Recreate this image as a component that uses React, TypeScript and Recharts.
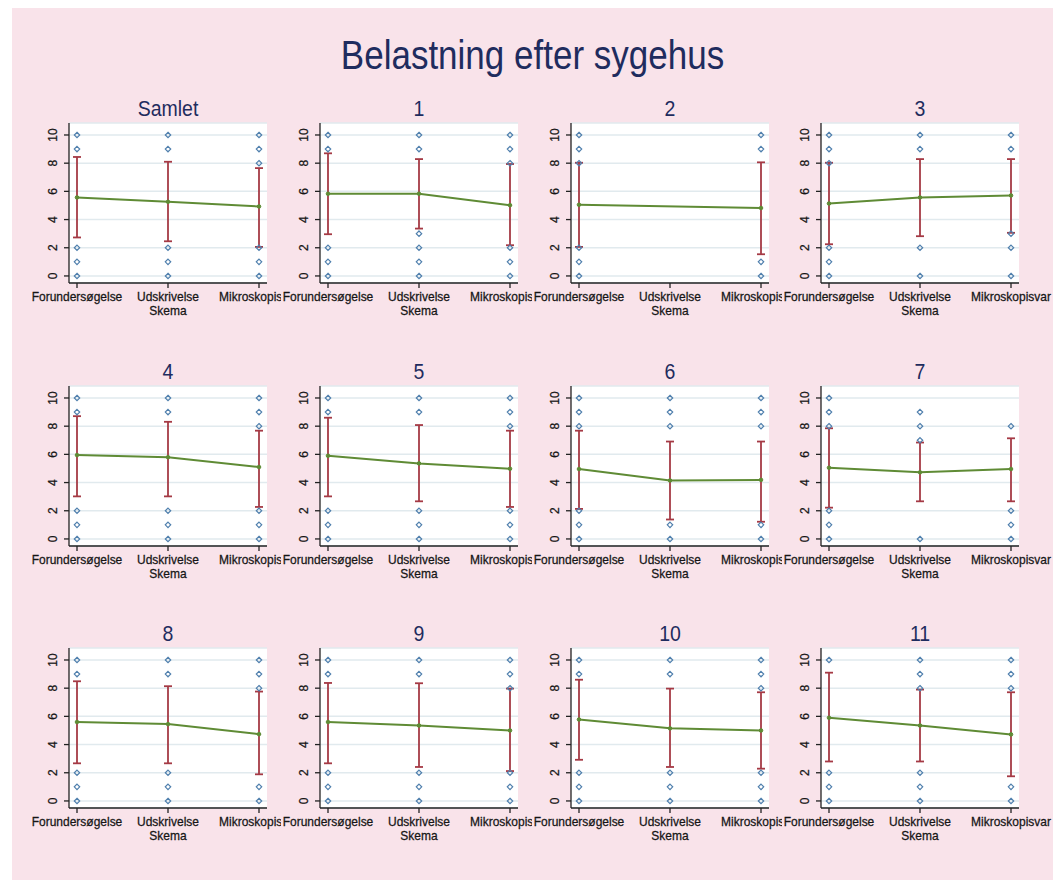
import { ComposedChart, Line, Scatter, ErrorBar, XAxis, YAxis, CartesianGrid } from "recharts";

const categories = ["Forundersøgelse", "Udskrivelse\nSkema", "Mikroskopisvar"];
const panelTitles = ["Samlet", "1", "2", "3", "4", "5", "6", "7", "8", "9", "10", "11"];
const yTicks = [0, 2, 4, 6, 8, 10];

// mean per category (null = no data)
const means: (number | null)[][] = [
  [5.57, 5.26, 4.93],
  [5.83, 5.83, 5.02],
  [5.05, null, 4.82],
  [5.14, 5.57, 5.71],
  [5.95, 5.8, 5.1],
  [5.9, 5.36, 4.98],
  [4.96, 4.15, 4.19],
  [5.05, 4.73, 4.96],
  [5.6, 5.45, 4.74],
  [5.6, 5.35, 5.0],
  [5.78, 5.15, 5.0],
  [5.9, 5.35, 4.72],
];

const lows: (number | null)[][] = [
  [2.73, 2.46, 2.06],
  [2.96, 3.36, 2.18],
  [2.06, null, 1.54],
  [2.25, 2.82, 3.06],
  [3.02, 3.02, 2.27],
  [3.02, 2.67, 2.27],
  [2.13, 1.38, 1.22],
  [2.22, 2.67, 2.67],
  [2.67, 2.67, 1.89],
  [2.67, 2.41, 2.12],
  [2.92, 2.41, 2.29],
  [2.8, 2.8, 1.75],
];

const highs: (number | null)[][] = [
  [8.44, 8.1, 7.65],
  [8.7, 8.29, 7.94],
  [8.03, null, 8.06],
  [8.03, 8.29, 8.29],
  [8.71, 8.31, 7.68],
  [8.6, 8.08, 7.68],
  [7.68, 6.91, 6.91],
  [7.85, 6.84, 7.14],
  [8.49, 8.14, 7.76],
  [8.37, 8.35, 7.97],
  [8.6, 7.97, 7.71],
  [9.1, 7.9, 7.71],
];

// single answers outside the bars
const outliers: number[][][] = [
  [[10, 9, 2, 1, 0], [10, 9, 2, 1, 0], [10, 9, 8, 2, 1, 0]],
  [[10, 9, 2, 1, 0], [10, 9, 3, 2, 1, 0], [10, 9, 8, 2, 1, 0]],
  [[10, 9, 8, 2, 1, 0], [], [10, 9, 1, 0]],
  [[10, 9, 8, 2, 1, 0], [10, 9, 2, 0], [10, 9, 3, 2, 0]],
  [[10, 9, 2, 1, 0], [10, 9, 2, 1, 0], [10, 9, 8, 2, 1, 0]],
  [[10, 9, 2, 1, 0], [10, 9, 2, 1, 0], [10, 9, 8, 2, 1, 0]],
  [[10, 9, 8, 2, 1, 0], [10, 9, 8, 1, 0], [10, 9, 8, 1, 0]],
  [[10, 9, 8, 2, 1, 0], [9, 8, 7, 0], [8, 2, 1, 0]],
  [[10, 9, 2, 1, 0], [10, 9, 2, 1, 0], [10, 9, 8, 1, 0]],
  [[10, 9, 2, 1, 0], [10, 9, 2, 1, 0], [10, 9, 8, 2, 1, 0]],
  [[10, 9, 2, 1, 0], [10, 9, 2, 1, 0], [10, 9, 8, 2, 1, 0]],
  [[10, 2, 1, 0], [10, 9, 8, 2, 1, 0], [10, 9, 8, 1, 0]],
];

const PINK = "#f9e3ea";
const NAVY = "#1f2c5e";
const GREEN = "#5f8b35";
const RED = "#a53a45";
const BLUE = "#4f7fad";
const INK = "#161616";
const FONT = "'Liberation Sans', Arial, sans-serif";

const PLOT_W = 198;
const PLOT_H = 160;
const AXIS_W = 34;
const PAD_L = 5;
const CHART_W = 300;
const plotLefts = [69, 320, 571, 821];
const plotTops = [123, 386, 648];

const XTick = (props: any) => {
  const { x, y, payload } = props;
  const lines = categories[payload.value].split("\n");
  return (
    <g transform={`translate(${x},${y}) scale(1,1.08)`}>
      <text
        textAnchor="middle"
        fontSize={12}
        fill={INK}
        stroke={INK}
        strokeWidth={0.25}
        fontFamily={FONT}
      >
        {lines.map((l, i) => (
          <tspan key={i} x={0} y={12.5 + i * 12.5}>
            {l}
          </tspan>
        ))}
      </text>
    </g>
  );
};

const YTick = (props: any) => {
  const { x, y, payload } = props;
  return (
    <text
      transform={`translate(${x},${y}) rotate(-90)`}
      y={-7.5}
      textAnchor="middle"
      fontSize={12}
      fill={INK}
      stroke={INK}
      strokeWidth={0.25}
      fontFamily={FONT}
    >
      {payload.value}
    </text>
  );
};

const Diamond = (props: any) => {
  const { cx, cy } = props;
  const r = 2.7;
  return (
    <path
      d={`M${cx},${cy - r}L${cx + r},${cy}L${cx},${cy + r}L${cx - r},${cy}Z`}
      fill="none"
      stroke={BLUE}
      strokeWidth={1.2}
    />
  );
};

const Panel = ({ p }: { p: number }) => {
  const col = p % 4;
  const row = Math.floor(p / 4);
  const rows = categories.map((_, i) => {
    const m = means[p][i];
    const lo = lows[p][i];
    const hi = highs[p][i];
    return {
      x: i,
      mean: m,
      err: m == null || lo == null || hi == null ? undefined : [m - lo, hi - m],
    };
  });
  const dots = outliers[p].flatMap((vals, i) => vals.map((v) => ({ x: i, y: v })));
  const left = plotLefts[col] - AXIS_W - PAD_L;
  const top = plotTops[row] - 40;
  return (
    <div style={{ position: "absolute", left, top, width: CHART_W, height: 250, background: PINK }}>
      <div
        style={{
          position: "absolute",
          left: AXIS_W + PAD_L,
          top: 12,
          width: PLOT_W,
          textAlign: "center",
          fontSize: 19.5,
          lineHeight: "26px",
          color: NAVY,
          fontFamily: FONT,
          transform: "scaleY(1.12)",
        }}
      >
        {panelTitles[p]}
      </div>
      <div style={{ position: "absolute", left: 0, top: 30 }}>
        <ComposedChart
          width={CHART_W}
          height={PLOT_H + 50}
          data={rows}
          margin={{ top: 10, right: CHART_W - AXIS_W - PAD_L - PLOT_W, bottom: 0, left: PAD_L }}
        >
          <CartesianGrid vertical={false} fill="#ffffff" stroke="#e1eaee" strokeWidth={1.5} />
          <XAxis
            type="number"
            dataKey="x"
            domain={[0, 2]}
            ticks={[0, 1, 2]}
            padding={{ left: 8, right: 8 }}
            height={40}
            tick={<XTick />}
            tickSize={5}
            tickMargin={0}
            interval={0}
            stroke="#222"
            strokeWidth={1.3}
          />
          <YAxis
            dataKey="y"
            type="number"
            domain={[-0.5, 10.85]}
            allowDataOverflow
            ticks={yTicks}
            width={AXIS_W}
            tick={<YTick />}
            tickSize={5}
            tickMargin={0}
            interval={0}
            stroke="#222"
            strokeWidth={1.3}
          />
          <Scatter data={dots} dataKey="y" shape={<Diamond />} isAnimationActive={false} />
          <Line
            dataKey="mean"
            stroke={GREEN}
            strokeWidth={2}
            connectNulls
            dot={{ r: 1.8, fill: GREEN, stroke: GREEN, strokeWidth: 1 }}
            activeDot={false}
            isAnimationActive={false}
          >
            <ErrorBar dataKey="err" direction="y" width={4} stroke={RED} strokeWidth={1.8} />
          </Line>
        </ComposedChart>
      </div>
    </div>
  );
};

export default function App() {
  return (
    <div
      style={{
        position: "absolute",
        left: 0,
        top: 0,
        width: 1053,
        height: 880,
        overflow: "hidden",
        background: "#ffffff",
      }}
    >
      <div style={{ position: "absolute", left: 12, top: 8, right: 0, bottom: 0, background: PINK }} />
      <div
        style={{
          position: "absolute",
          left: 0,
          width: 1065,
          top: 33,
          textAlign: "center",
          fontSize: 35,
          lineHeight: "44px",
          color: NAVY,
          fontFamily: FONT,
          transform: "scaleY(1.15)",
        }}
      >
        Belastning efter sygehus
      </div>
      {panelTitles.map((_, p) => (
        <Panel key={p} p={p} />
      ))}
    </div>
  );
}
